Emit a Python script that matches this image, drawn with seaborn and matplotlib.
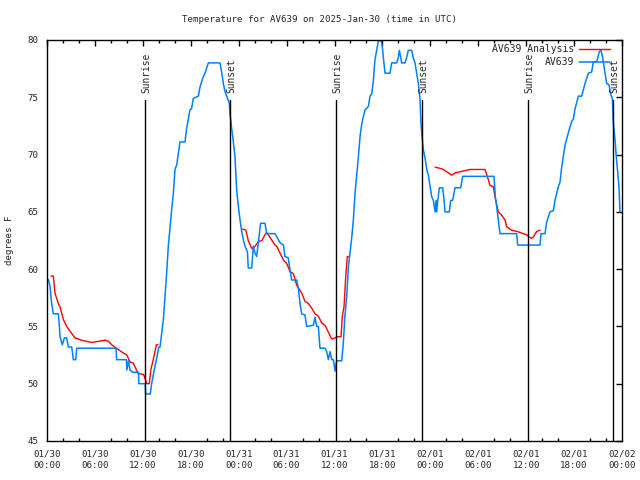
import matplotlib
matplotlib.use("Agg")
import matplotlib.pyplot as plt
import seaborn as sns
import pandas as pd
import numpy as np

# ---- data (hours since 2025-01-30 00:00 UTC, degrees F) ----
obs_hours = [0.17, 0.38, 0.58, 0.79, 1.42, 1.55, 1.63, 1.92, 2.17, 2.46, 2.67, 3.1, 3.3, 3.6, 3.72,
             8.65, 8.72, 9.95, 10.0, 10.2, 10.4, 10.7, 11.45, 11.5, 12.3, 12.35, 12.93, 13.1, 13.4, 13.7, 14.0,
             14.15, 14.36, 14.57, 14.78, 14.98, 15.19, 15.4, 15.61, 15.82, 16.03, 16.24, 16.45, 16.65, 17.28,
             17.49, 17.9, 18.1, 18.32, 18.95, 19.16, 19.57, 19.78, 20.2, 21.66, 21.87, 22.08, 22.29, 22.5,
             22.83, 22.9, 23.03, 23.1, 23.3, 23.54, 23.75, 23.96, 24.17, 24.38, 24.6, 24.8, 25.1, 25.2,
             25.63, 25.84, 26.05, 26.25, 26.46, 26.75, 27.3, 27.5, 28.55, 29.18, 29.6, 29.8, 30.2, 30.43,
             30.64, 31.27, 31.48, 31.68, 31.9, 32.3, 32.52, 33.35, 33.56, 33.77, 33.98, 34.18, 34.81, 35.02,
             35.23, 35.44, 35.65, 35.86, 36.07, 36.27, 36.9, 37.1, 37.3, 37.53, 37.74, 37.94, 38.15, 38.36,
             38.57, 38.78, 38.99, 39.2, 39.4, 39.6, 39.82, 40.24, 40.45, 40.66, 40.86, 41.07, 41.28, 41.49,
             41.82, 41.99, 42.11, 42.33, 42.95, 43.16, 43.79, 44.0, 44.12, 44.29, 44.41, 44.83, 45.04, 45.25,
             45.67, 45.88, 46.08, 46.29, 46.5, 46.71, 46.83, 46.96, 47.13, 47.34, 47.55, 47.76, 47.97, 48.18,
             48.38, 48.6, 48.72, 48.8, 48.93, 49.13, 49.55, 49.72, 49.84, 50.38, 50.55, 50.8, 51.09, 51.8,
             52.05, 55.97, 56.14, 56.3, 56.51, 56.72, 58.81, 58.94, 61.73, 61.86, 62.36, 62.57, 62.98, 63.4,
             63.61, 64.03, 64.24, 64.45, 64.65, 64.86, 65.28, 65.7, 65.91, 66.12, 66.54, 66.95, 67.37, 67.79,
             68.2, 68.41, 68.83, 69.17, 69.37, 69.54, 69.87, 70.08, 70.37, 70.62, 70.79, 70.92, 71.13, 71.25,
             71.46, 71.62, 71.75]
obs_temps = [59.1, 58.5, 57.0, 56.1, 56.1, 55.0, 54.1, 53.4, 54.0, 54.0, 53.2, 53.2, 52.1, 52.1, 53.1,
             53.1, 52.1, 52.1, 51.2, 52.0, 51.2, 51.0, 51.0, 50.0, 50.0, 49.1, 49.1, 50.0, 51.1, 52.1, 53.2,
             53.2, 54.4, 55.6, 57.6, 59.6, 62.0, 63.6, 65.2, 66.6, 68.7, 69.1, 70.1, 71.1, 71.1,
             72.3, 73.9, 74.0, 74.9, 75.1, 75.9, 76.8, 77.1, 78.0, 78.0, 77.2, 76.2, 75.5, 75.1,
             74.5, 73.6, 72.9, 72.4, 71.3, 69.8, 66.9, 65.5, 64.3, 63.3, 62.5, 62.0, 61.5, 60.1,
             60.1, 62.0, 61.4, 61.1, 62.3, 64.0, 64.0, 63.1, 63.1, 62.3, 62.1, 61.1, 61.0, 59.9,
             59.05, 59.05, 58.3, 57.0, 56.1, 56.0, 55.0, 55.1, 55.8, 55.0, 55.0, 53.1, 53.1, 52.8,
             52.1, 52.8, 52.1, 52.1, 51.1, 52.0, 52.0, 53.5, 55.9, 57.6, 60.2, 61.4, 62.7, 64.3,
             66.6, 68.2, 69.8, 71.6, 72.6, 73.3, 73.9, 74.2, 75.1, 75.3, 76.4, 78.3, 79.1, 79.9,
             80.0, 79.4, 78.5, 77.1, 77.1, 78.0, 78.0, 78.5, 79.1, 78.5, 78.0, 78.0, 78.5, 79.1,
             79.1, 78.4, 78.0, 77.1, 76.2, 74.8, 72.7, 71.6, 70.4, 69.7, 68.7, 68.2, 67.2, 66.3,
             66.0, 65.0, 66.0, 65.0, 66.0, 67.1, 67.1, 66.0, 65.0, 65.0, 66.0, 66.0, 67.1, 67.1,
             68.1, 68.1, 66.3, 65.5, 64.3, 63.1, 63.1, 62.1, 62.1, 63.1, 63.1, 64.1, 65.0, 65.1,
             66.0, 67.2, 67.6, 68.9, 69.8, 70.8, 71.9, 72.9, 73.1, 74.0, 75.1, 75.1, 76.2, 77.1,
             77.2, 78.1, 78.1, 79.0, 79.1, 78.6, 77.1, 76.2, 76.1, 75.2, 74.9, 72.7, 71.3, 70.1,
             68.5, 67.2, 65.0]

ana_hours_a = [0.5, 0.79, 1.0, 1.42, 1.63, 2.05, 2.46, 3.5, 4.3, 5.6, 7.3, 7.7, 8.1, 8.7, 9.3, 10.0,
               10.4, 10.8, 11.4, 12.1, 12.5, 12.8, 13.0, 13.3, 13.7, 13.9]
ana_temps_a = [59.4, 59.4, 57.9, 57.0, 56.7, 55.6, 55.0, 54.0, 53.8, 53.6, 53.8, 53.7, 53.4, 53.1, 52.8, 52.5,
               51.9, 51.8, 50.9, 50.8, 50.0, 50.0, 51.2, 52.1, 53.4, 53.4]
ana_hours_b = [24.5, 24.9, 25.2, 25.63, 26.05, 26.46, 26.9, 27.3, 27.5, 27.9, 28.55, 28.76, 29.18, 29.6,
               30.01, 30.43, 30.85, 31.27, 31.9, 32.3, 32.73, 33.14, 33.56, 33.98, 34.4, 34.81, 35.23,
               35.65, 36.07, 36.27, 36.82, 36.98, 37.19, 37.4, 37.6, 37.74]
ana_temps_b = [63.5, 63.4, 62.5, 61.8, 62.0, 62.4, 62.5, 63.0, 63.2, 62.8, 62.1, 62.0, 61.4, 60.8,
               60.5, 59.8, 59.6, 58.6, 57.9, 57.2, 57.0, 56.6, 56.1, 55.9, 55.3, 55.1, 54.5,
               53.9, 54.0, 54.1, 54.1, 55.9, 56.7, 59.3, 61.1, 61.1]
ana_hours_c = [48.6, 49.22, 49.63, 50.26, 50.67, 51.09, 51.72, 52.34, 52.97, 53.8, 54.84, 55.14, 55.47,
               55.89, 56.1, 56.51, 56.93, 57.35, 57.56, 58.19, 58.81, 59.65, 60.07, 60.36, 60.69, 60.9,
               61.32, 61.73]
ana_temps_c = [68.9, 68.8, 68.7, 68.4, 68.2, 68.4, 68.5, 68.6, 68.7, 68.7, 68.7, 68.1, 67.3,
               67.2, 66.3, 65.0, 64.7, 64.3, 63.7, 63.4, 63.3, 63.1, 63.0, 62.8, 62.7, 62.8,
               63.3, 63.4]

sun_hours = [12.27, 22.96, 36.19, 47.0, 60.27, 70.92]
sun_labels = ["Sunrise", "Sunset", "Sunrise", "Sunset", "Sunrise", "Sunset"]

xtick_hours = [0, 6, 12, 18, 24, 30, 36, 42, 48, 54, 60, 66, 72]
xtick_labels = ["01/30\n00:00", "01/30\n06:00", "01/30\n12:00", "01/30\n18:00",
                "01/31\n00:00", "01/31\n06:00", "01/31\n12:00", "01/31\n18:00",
                "02/01\n00:00", "02/01\n06:00", "02/01\n12:00", "02/01\n18:00",
                "02/02\n00:00"]
ytick_values = [45, 50, 55, 60, 65, 70, 75, 80]

title = "Temperature for AV639 on 2025-Jan-30 (time in UTC)"

# ---- drawing ----
sns.set_style("white")
plt.rcParams['font.family'] = ['DejaVu Sans Mono']
fs = 6.6

fig = plt.figure(figsize=(6.4, 4.8), dpi=100)
ax = fig.add_axes([47 / 640, 1 - 441 / 480, 575 / 640, 401 / 480])

obs_df = pd.DataFrame({"hour": obs_hours, "temp": obs_temps})
red = "#ff0000"
blue = "#0080ff"
for i, (hh, tt) in enumerate([(ana_hours_a, ana_temps_a), (ana_hours_b, ana_temps_b), (ana_hours_c, ana_temps_c)]):
    d = pd.DataFrame({"hour": hh, "temp": tt})
    sns.lineplot(data=d, x="hour", y="temp", ax=ax, color=red, linewidth=1.0,
                 estimator=None, sort=False,
                 label="AV639 Analysis" if i == 0 else "_nolegend_")
sns.lineplot(data=obs_df, x="hour", y="temp", ax=ax, color=blue, linewidth=1.1,
             estimator=None, sort=False, label="AV639")

for h, lab in zip(sun_hours, sun_labels):
    ax.plot([h, h], [45, 74.8], color="black", linewidth=1.0)
    ax.text(h + 0.15, 75.4, lab, rotation=90, ha="center", va="bottom", fontsize=fs + 0.3)

ax.set_xlim(0, 72)
ax.set_ylim(45, 80)
ax.set_xticks(xtick_hours)
ax.set_xticklabels(xtick_labels, fontsize=fs, linespacing=1.45)
ax.set_xticks(np.arange(0, 73, 2), minor=True)
ax.set_yticks(ytick_values)
ax.set_yticklabels([str(v) for v in ytick_values], fontsize=fs)
ax.tick_params(axis="both", which="major", direction="in", length=4.3, width=1,
               top=True, right=True, color="black", pad=6)
ax.tick_params(axis="x", which="minor", direction="in", length=2.5, width=1,
               top=True, bottom=True, color="black")
for s in ax.spines.values():
    s.set_color("black")
    s.set_linewidth(1.0)
ax.set_xlabel("")
ax.set_ylabel("degrees F", fontsize=fs, labelpad=10)
fig.text(0.5, 1 - 19 / 480, title, fontsize=fs, ha="center", va="center")

leg = ax.legend(loc="upper right", bbox_to_anchor=(1 - 12 / 575, 1 - 4 / 401), frameon=False,
                markerfirst=False, fontsize=fs + 0.4, borderaxespad=0.0,
                handlelength=3.2, labelspacing=0.35, handletextpad=0.5, borderpad=0.0)

fig.savefig("out.png", dpi=100)
